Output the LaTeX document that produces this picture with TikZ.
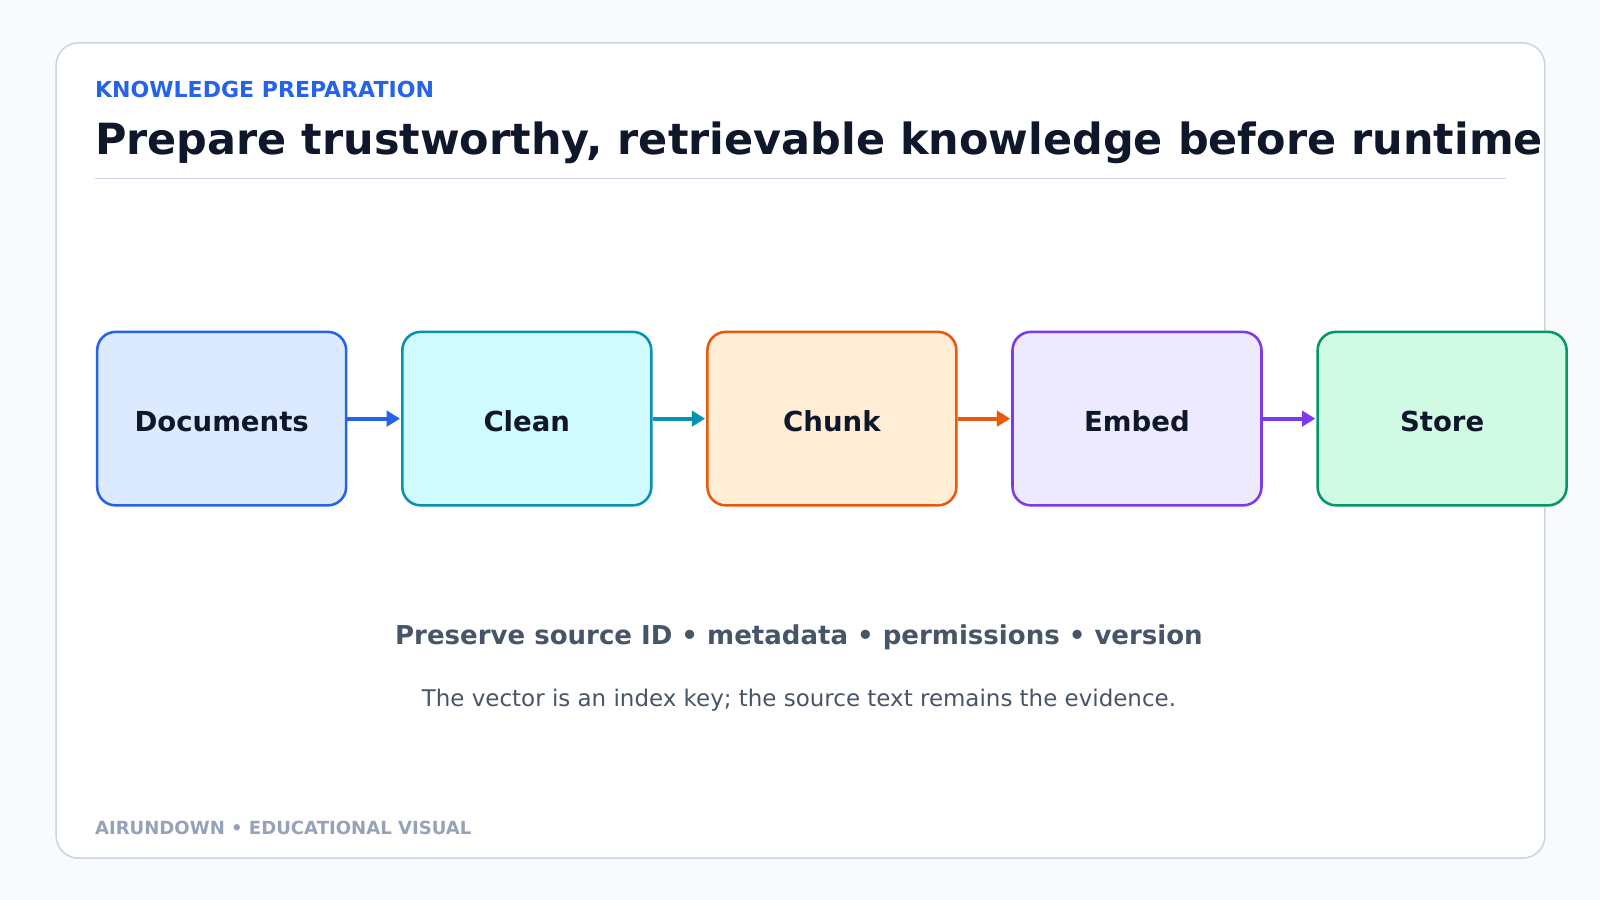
\documentclass[tikz,border=0pt]{standalone}
\usepackage{fontspec}
\setmainfont{DejaVu Sans}
\usetikzlibrary{arrows.meta}
\definecolor{bgc}{HTML}{F8FAFC}
\definecolor{cardline}{HTML}{CBD5E1}
\definecolor{ink}{HTML}{0F172A}
\definecolor{slate}{HTML}{475569}
\definecolor{muted}{HTML}{94A3B8}
\definecolor{blueS}{HTML}{2563EB}\definecolor{blueF}{HTML}{DBEAFE}
\definecolor{cyanS}{HTML}{0891B2}\definecolor{cyanF}{HTML}{CFFAFE}
\definecolor{orS}{HTML}{EA580C}\definecolor{orF}{HTML}{FFEDD5}
\definecolor{puS}{HTML}{7C3AED}\definecolor{puF}{HTML}{EDE9FE}
\definecolor{grS}{HTML}{059669}\definecolor{grF}{HTML}{D1FAE5}
\newcommand{\stagetext}[1]{\raisebox{-2.5pt}[\height][\depth]{#1}}
\tikzset{
  stage/.style={draw=#1S, fill=#1F, line width=2.5pt, rounded corners=18pt,
    minimum width=244pt, minimum height=170pt, inner sep=0pt, anchor=north west,
    font=\fontsize{27}{30}\selectfont\bfseries, text=ink},
  flow/.style={draw=#1S, line width=4pt, -{Triangle[length=13pt,width=15pt]}, shorten >=1pt},
}
\begin{document}
\begin{tikzpicture}[x=1pt,y=-1pt]
\useasboundingbox (0,0) rectangle (1568,882);
\fill[bgc] (0,0) rectangle (1568,882);
\draw[cardline, fill=white, line width=1.5pt, rounded corners=22pt] (55,42) rectangle (1514,841);
\node[anchor=base west, inner sep=0pt, text=blueS, font=\fontsize{21.6}{25}\selectfont\bfseries] (kicker) at (93,96) {KNOWLEDGE PREPARATION};
\node[anchor=base west, inner sep=0pt, text=ink, font=\fontsize{42.1}{50}\selectfont\bfseries] (title) at (93,151) {Prepare trustworthy, retrievable knowledge before runtime};
\draw[cardline, line width=1.8pt] (93,175) -- (1476,175);
\node[stage=blue] (docs) at (94,324) {\stagetext{Documents}};
\node[stage=cyan] (clean) at (393,324) {\stagetext{Clean}};
\node[stage=or] (chunk) at (692,324) {\stagetext{Chunk}};
\node[stage=pu] (embed) at (991,324) {\stagetext{Embed}};
\node[stage=gr] (store) at (1290,324) {\stagetext{Store}};
\draw[flow=blue] (docs.east) -- (clean.west);
\draw[flow=cyan] (clean.east) -- (chunk.west);
\draw[flow=or] (chunk.east) -- (embed.west);
\draw[flow=pu] (embed.east) -- (store.west);
\node[anchor=base, inner sep=0pt, text=slate, font=\fontsize{25.5}{30}\selectfont\bfseries] (keep) at (783,632) {Preserve source ID • metadata • permissions • version};
\node[anchor=base, inner sep=0pt, text=slate, font=\fontsize{22.5}{26}\selectfont] (note) at (783,692) {The vector is an index key; the source text remains the evidence.};
\node[anchor=base west, inner sep=0pt, text=muted, font=\fontsize{17.7}{22}\selectfont\bfseries] (foot) at (93,818) {AIRUNDOWN • EDUCATIONAL VISUAL};
\end{tikzpicture}
\end{document}
